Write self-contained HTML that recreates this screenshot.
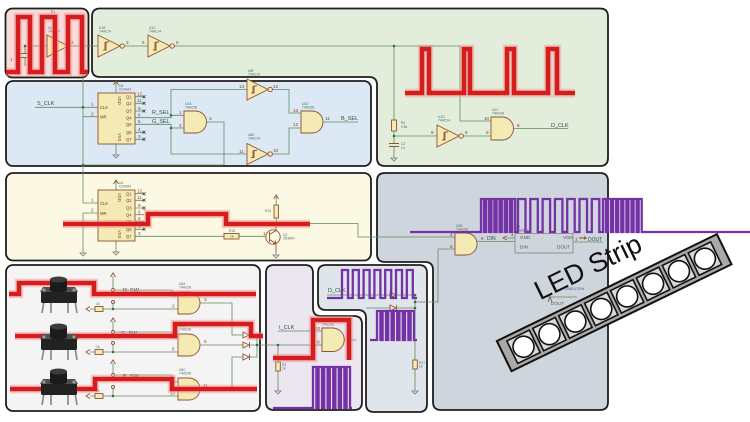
<!DOCTYPE html>
<html><head><meta charset="utf-8"><title>schematic</title>
<style>
html,body{margin:0;padding:0;background:#fff;width:750px;height:422px;overflow:hidden}
svg{display:block}
text{font-family:"Liberation Sans",sans-serif}
.w{stroke:#5e8c5e;stroke-width:.8;fill:none}
.c{fill:#f4ebb4;stroke:#8e5234;stroke-width:.9}
.co{fill:none;stroke:#8e5234;stroke-width:.9}
.rd{fill:none;stroke:#d61d1d;stroke-width:4.6;stroke-linejoin:miter}
.rh{fill:none;stroke:#f09a9a;stroke-width:8.5;opacity:.5;stroke-linejoin:miter}
.pp{fill:none;stroke:#7432a6;stroke-width:2.3;stroke-linejoin:miter}
.lb{font-size:5.5px;fill:#2f4f3f}
.pn{font-size:4.6px;fill:#8e3a2a}
.rf{font-size:3.3px;fill:#4a6a6a}
.dot{fill:#3d6b3d}
.gn{fill:none;stroke:#777;stroke-width:.8}
.x{stroke:#3a3a8a;stroke-width:.7}
.pnl{stroke:#1e1e1e;stroke-width:1.8}
</style></head><body>
<svg width="750" height="422" viewBox="0 0 750 422" xmlns="http://www.w3.org/2000/svg">
<defs>
<g id="gnd"><path d="M0,0 V3 M-3,3 H3 L0,6 Z" fill="none" stroke="#777" stroke-width=".8"/></g>
<g id="xm"><path d="M-1.5,-1.5 L1.5,1.5 M1.5,-1.5 L-1.5,1.5" stroke="#333" stroke-width=".7"/></g>
<g id="btn">
 <path d="M3,25 L1,37 M10,27 V37 M27,27 V37 M34,25 L36,37" stroke="#8a8a8a" stroke-width="1.7" fill="none"/>
 <rect x="0" y="14" width="36" height="13" rx="1.5" fill="#222"/>
 <path d="M2,11 L34,11 L37,16 L-1,16 Z" fill="#4f4f4f"/>
 <circle cx="3" cy="14" r="1.6" fill="#9a9a9a"/>
 <circle cx="33" cy="14" r="1.6" fill="#9a9a9a"/>
 <rect x="9" y="3.5" width="17" height="10.5" fill="#1b1b1b"/>
 <ellipse cx="17.5" cy="14" rx="8.5" ry="2.5" fill="#1b1b1b"/>
 <ellipse cx="17.5" cy="3.5" rx="8.5" ry="3" fill="#3c3c3c"/>
</g>
</defs>
<rect width="750" height="422" fill="#fff"/>

<!-- PANELS -->
<rect class="pnl" x="5.5" y="8.5" width="83" height="69" rx="7" fill="#f7dcdc"/>
<path class="pnl" d="M100,8.5 H600 Q608,8.5 608,16.5 V158 Q608,166 600,166 H385 Q377,166 377,158 V85 Q377,77 369,77 H100 Q92,77 92,69 V16.5 Q92,8.5 100,8.5 Z" fill="#e2eedb"/>
<rect class="pnl" x="6" y="81" width="365" height="85" rx="7" fill="#dce8f3"/>
<rect class="pnl" x="6" y="173" width="365" height="87.5" rx="7" fill="#fbf9e4"/>
<path class="pnl" d="M385,173 H600 Q608,173 608,181 V402 Q608,410 600,410 H441 Q433,410 433,402 V270 Q433,262 425,262 H385 Q377,262 377,254 V181 Q377,173 385,173 Z" fill="#cfd5dc"/>
<rect class="pnl" x="6" y="265" width="254" height="146" rx="7" fill="#f4f4f4"/>
<path class="pnl" d="M274,265 H305 Q313,265 313,273 V308 Q313,316 321,316 H354 Q362,316 362,324 V402 Q362,410 354,410 H274 Q266,410 266,402 V273 Q266,265 274,265 Z" fill="#ebe6ef"/>
<path class="pnl" d="M326,265 H419 Q427,265 427,273 V404 Q427,412 419,412 H374 Q366,412 366,404 V318 Q366,310 358,310 H326 Q318,310 318,302 V273 Q318,265 326,265 Z" fill="#e0e4eb"/>

<!-- PINK panel content -->
<path class="w" d="M25,46 H47 M68,46 H98 M25,46 V53.5 M25,57.5 V66 M83,46 V77"/>
<path class="co" d="M20,53.5 H30 M20,57.5 H30"/>
<circle class="dot" cx="25" cy="46" r="1.3"/>
<path class="c" d="M47,35 L68,46 L47,57 Z"/>
<text class="rf" x="48" y="29">U1A</text><text class="rf" x="48" y="32.5">74HC14</text>
<text class="pn" x="71" y="44">2</text><text class="pn" x="10" y="61">1</text>
<text class="rf" x="51" y="13">R1</text>

<!-- GREEN panel content -->
<path class="w" d="M124.5,46 H148 M174.5,46 H460 V121 H491 M394,46 V120 M394,131 V143.5 M394,146.5 V155 M394,136 H437 M463.5,136 H491 M513,128.5 H568"/>
<circle class="dot" cx="394" cy="46" r="1.3"/><circle class="dot" cx="394" cy="136" r="1.3"/>
<path class="c" d="M98,35 L120,46 L98,57 Z"/><circle class="c" cx="122.2" cy="46" r="2.2"/>
<path class="co" d="M103,50 H106 V42 H109 M105,50 V42"/>
<path class="c" d="M148,35 L170,46 L148,57 Z"/><circle class="c" cx="172.2" cy="46" r="2.2"/>
<path class="co" d="M153,50 H156 V42 H159 M155,50 V42"/>
<text class="rf" x="99" y="29">U1B</text><text class="rf" x="99" y="32.5">74HC14</text>
<text class="rf" x="149" y="29">U1C</text><text class="rf" x="149" y="32.5">74HC14</text>
<text class="pn" x="126" y="44">3</text><text class="pn" x="142" y="44">5</text><text class="pn" x="176" y="44">6</text>
<rect class="c" x="391.5" y="120" width="5" height="11"/>
<path class="co" d="M389,143.5 H399 M389,146.5 H399"/>
<use href="#gnd" x="394" y="155"/>
<text class="rf" x="401" y="124">R4</text><text class="rf" x="401" y="128">0.5k</text>
<text class="rf" x="401" y="145">C3</text><text class="rf" x="401" y="149">1u</text>
<path class="c" d="M437,125 L459,136 L437,147 Z"/><circle class="c" cx="461.2" cy="136" r="2.2"/>
<path class="co" d="M442,140 H445 V132 H448 M444,140 V132"/>
<text class="rf" x="438" y="118">U1D</text><text class="rf" x="438" y="121.5">74HC14</text>
<text class="pn" x="431" y="134">9</text><text class="pn" x="465" y="134">8</text>
<path class="c" d="M491,117 h11 a11.5 11.5 0 0 1 0 23 h-11 z"/>
<text class="rf" x="492" y="111">U2C</text><text class="rf" x="492" y="114.5">74HC08</text>
<text class="pn" x="484" y="120">10</text><text class="pn" x="486" y="134">9</text><text class="pn" x="517" y="127">8</text>
<text class="lb" x="551" y="127">D_CLK</text>

<!-- BLUE panel content -->
<path class="w" d="M35,107.3 H98 M83,77 V203 H98 M83,116.7 H98 M83,116.7 V165 H224 V122 H206.5 M116,82 V93 M116,144 V152"/>
<path class="co" d="M113.5,85 L116,81 L118.5,85"/>
<use href="#gnd" x="116" y="152"/>
<circle class="dot" cx="83" cy="107.3" r="1.3"/><circle class="dot" cx="83" cy="165" r="1.3"/>
<rect class="c" x="98" y="93" width="37" height="51"/>
<path class="w" d="M135,96.7 H144 M135,103.3 H144 M135,111 H144 M135,132.3 H144 M135,139.3 H144"/>
<use href="#xm" x="144" y="96.7"/><use href="#xm" x="144" y="103.3"/><use href="#xm" x="144" y="111"/><use href="#xm" x="144" y="132.3"/><use href="#xm" x="144" y="139.3"/>
<g class="pn"><text x="137" y="95.5">12</text><text x="137" y="102">11</text><text x="138" y="109.8">9</text><text x="138" y="116.5">6</text><text x="138" y="123">5</text><text x="138" y="131">4</text><text x="138" y="138">3</text></g>
<g style="font-size:4.2px;fill:#6a3a2a"><text x="126" y="98.5">Q1</text><text x="126" y="105">Q2</text><text x="126" y="112.5">Q3</text><text x="126" y="119.5">Q4</text><text x="126" y="126">Q5</text><text x="126" y="134">Q6</text><text x="126" y="141">Q7</text>
<text x="100" y="109">CLK</text><text x="100" y="118.5">MR</text></g>
<text style="font-size:4.2px;fill:#6a3a2a" transform="translate(118,96) rotate(90)">VDD</text>
<text style="font-size:4.2px;fill:#6a3a2a" transform="translate(118,133) rotate(90)">VSS</text>
<text class="pn" x="91" y="105.5">1</text><text class="pn" x="91" y="115.5">2</text>
<text class="rf" x="119" y="87">U9</text><text class="rf" x="119" y="90.5">CD4024</text>
<text class="lb" x="37" y="105">S_CLK</text>
<path class="w" d="M135,117.7 H171 V115.3 H184 M135,124.3 H171 V128 H184 M171,115.3 V89.5 H247 M171,128 V154 H247"/>
<circle class="dot" cx="171" cy="115.3" r="1.3"/><circle class="dot" cx="171" cy="128" r="1.3"/>
<text class="lb" x="152" y="114">R_SEL</text><text class="lb" x="152" y="123">G_SEL</text>
<path class="c" d="M184,111 h11.5 a11 11 0 0 1 0 22 h-11.5 z"/>
<text class="rf" x="185" y="105">U2A</text><text class="rf" x="185" y="108.5">74HC08</text>
<text class="pn" x="179" y="114">1</text><text class="pn" x="179" y="127">2</text><text class="pn" x="209" y="120">3</text>
<path class="c" d="M247,79 L268,89.5 L247,100 Z"/><circle class="c" cx="270.2" cy="89.5" r="2.2"/>
<path class="co" d="M251,93 H254 V86 H257 M253,93 V86"/>
<path class="c" d="M247,143.5 L268,154 L247,164.5 Z"/><circle class="c" cx="270.2" cy="154" r="2.2"/>
<path class="co" d="M251,157.5 H254 V150.5 H257 M253,157.5 V150.5"/>
<text class="rf" x="248" y="72">U8F</text><text class="rf" x="248" y="75.5">74HC14</text>
<text class="rf" x="248" y="136">U8E</text><text class="rf" x="248" y="139.5">74HC14</text>
<text class="pn" x="239" y="88">13</text><text class="pn" x="273" y="88">12</text>
<text class="pn" x="239" y="153">11</text><text class="pn" x="273" y="152">10</text>
<path class="w" d="M272.4,89.5 H289 V113 H301 M272.4,154 H289 V128 H301 M323,122 H358"/>
<path class="c" d="M301,111 h11 a11 11 0 0 1 0 22 h-11 z"/>
<text class="rf" x="302" y="105">U2D</text><text class="rf" x="302" y="108.5">74HC08</text>
<text class="pn" x="293" y="112">13</text><text class="pn" x="293" y="126">12</text><text class="pn" x="325" y="120">11</text>
<text class="lb" x="341" y="120">B_SEL</text>

<!-- YELLOW panel content -->
<path class="w" d="M83,213 H98 M83,213 V250 M116,181 V190 M116,241 V249"/>
<path class="co" d="M113.5,184 L116,180 L118.5,184"/>
<use href="#gnd" x="83" y="250"/><use href="#gnd" x="116" y="249"/>
<rect class="c" x="98" y="190" width="37" height="51"/>
<path class="w" d="M135,193.7 H144 M135,200.3 H144 M135,208 H144 M135,214.7 H144 M135,221.3 H144 M135,229.3 H144 M135,236.3 H224 M239,236.3 H266"/>
<use href="#xm" x="144" y="193.7"/><use href="#xm" x="144" y="200.3"/><use href="#xm" x="144" y="208"/><use href="#xm" x="144" y="229.3"/>
<g class="pn"><text x="137" y="192.5">12</text><text x="137" y="199">11</text><text x="138" y="206.8">9</text><text x="138" y="213.5">6</text><text x="138" y="220">5</text><text x="138" y="228">4</text><text x="138" y="235">3</text></g>
<g style="font-size:4.2px;fill:#6a3a2a"><text x="126" y="195.5">Q1</text><text x="126" y="202">Q2</text><text x="126" y="209.5">Q3</text><text x="126" y="216.5">Q4</text><text x="126" y="223">Q5</text><text x="126" y="231">Q6</text><text x="126" y="238">Q7</text>
<text x="100" y="205">CLK</text><text x="100" y="215">MR</text></g>
<text style="font-size:4.2px;fill:#6a3a2a" transform="translate(118,193) rotate(90)">VDD</text>
<text style="font-size:4.2px;fill:#6a3a2a" transform="translate(118,230) rotate(90)">VSS</text>
<text class="pn" x="91" y="201.5">1</text><text class="pn" x="91" y="211.5">2</text>
<text class="rf" x="119" y="184">U4</text><text class="rf" x="119" y="187.5">CD4024</text>
<rect class="c" x="224" y="233.5" width="15" height="5.5"/>
<text class="rf" x="229" y="232">R16</text><text class="rf" x="230" y="237.5">1k</text>
<circle class="co" cx="273" cy="237" r="7.2"/>
<path class="co" d="M269.5,232 V242 M269.5,234.5 L276,230.5 V224 M269.5,239.5 L276,243.5 V252 M273,243.5 L276,243.5 L275,240.5"/>
<rect class="c" x="274" y="205" width="4.5" height="13"/>
<path class="w" d="M276.2,218 V224 M276.2,205 V196"/>
<path class="co" d="M273.7,199 L276.2,195 L278.7,199"/>
<use href="#gnd" x="276" y="252"/>
<text class="rf" x="265" y="212">R14</text><text class="rf" x="283" y="236">Q1</text><text class="rf" x="283" y="239.5">2N3904</text>
<text class="pn" x="263" y="235">1</text>
<path class="w" d="M310,223.5 H358 V237 H455"/>

<!-- GRAY LED panel content -->
<path class="w" d="M438,249 H455 M438,249 V302 H415 M477,241.5 H515 M507,238 H515 M573,242 H603"/>
<path class="c" d="M455,233 h11 a11 11 0 0 1 0 22 h-11 z"/>
<text class="rf" x="456" y="227">U2B</text><text class="rf" x="456" y="230.5">74HC08</text>
<text class="pn" x="450" y="236">4</text><text class="pn" x="450" y="248">5</text>
<text class="pn" x="481" y="240">6</text><text class="lb" x="487" y="240" style="font-size:5px">DIN</text>
<rect x="515" y="233.5" width="58" height="19.5" fill="none" stroke="#777" stroke-width=".7"/>
<path class="co" d="M507,236 L503,238 L507,240"/>
<text class="pn" x="511" y="236.5">4</text>
<g style="font-size:4.6px;fill:#555"><text x="520" y="239">GND</text><text x="520" y="248.5">DIN</text><text x="563" y="239">VDD</text><text x="557" y="248.5">DOUT</text></g>
<text class="pn" x="575" y="240.5">1</text>
<path class="co" d="M579,238 H586 L584,236.5 M586,238 L584,239.5"/>
<text class="lb" x="588" y="241" style="font-size:5px">DOUT</text>
<text class="rf" x="516" y="228" style="fill:#4a4aa8">U7</text><text class="rf" x="516" y="231.5" style="fill:#4a4aa8">WS2812</text>
<text class="rf" x="565" y="290" style="fill:#4a4aa8;font-size:4px">GND170%</text>
<path class="w" d="M548,297 H577"/>
<text style="font-size:4.6px;fill:#555" x="551" y="305">DOUT</text>
<path class="co" d="M548,302 L550,297 L552,302"/>

<!-- LOWER-LEFT panel content -->
<g class="w">
<path d="M113,276 V288.5 M113,303.5 V309 M103,309 H178 M95,309 H90 M114.5,290 H172 V296 H178"/>
<path d="M113,321 V330.5 M113,344.5 V352 M103,352 H178 M95,352 H90 M114.5,332 H172 V338 H178"/>
<path d="M113,363 V373.5 M113,388.5 V396 M103,396 H178 M95,396 H90 M114.5,375 H172 V382 H178"/>
<path d="M200,303 H232 V335 H243 M200,345 H243 M200,389 H232 V357 H243 M250,335 H257 V357 H250 M250,345 H278"/>
</g>
<g class="co">
<path d="M110.5,277 L113,273 L115.5,277 M110.5,322 L113,318 L115.5,322 M110.5,364 L113,360 L115.5,364"/>
<circle cx="113" cy="290" r="1.5"/><circle cx="113" cy="302" r="1.5"/>
<circle cx="113" cy="332" r="1.5"/><circle cx="113" cy="343" r="1.5"/>
<circle cx="113" cy="375" r="1.5"/><circle cx="113" cy="387" r="1.5"/>
<path d="M90,306.5 L86,309 L90,311.5 M90,349.5 L86,352 L90,354.5 M90,393.5 L86,396 L90,398.5"/>
<path d="M243,332 L249,335 L243,338 Z M249.5,332 V338 M243,342 L249,345 L243,348 Z M249.5,342 V348 M243,354 L249,357 L243,360 Z M249.5,354 V360"/>
</g>
<rect class="c" x="95" y="306.5" width="8" height="5"/><rect class="c" x="95" y="349.5" width="8" height="5"/><rect class="c" x="95" y="393.5" width="8" height="5"/>
<text class="rf" x="96" y="305">1k</text><text class="rf" x="96" y="348">1k</text><text class="rf" x="96" y="392">1k</text>
<circle class="dot" cx="113" cy="309" r="1.3"/><circle class="dot" cx="113" cy="352" r="1.3"/><circle class="dot" cx="113" cy="396" r="1.3"/>
<circle class="dot" cx="257" cy="345" r="1.3"/>
<path class="c" d="M178,292 h11 a11 11 0 0 1 0 22 h-11 z"/>
<path class="c" d="M178,334 h11 a11 11 0 0 1 0 22 h-11 z"/>
<path class="c" d="M178,378 h11 a11 11 0 0 1 0 22 h-11 z"/>
<text class="rf" x="179" y="285">U6A</text><text class="rf" x="179" y="288.5">74HC08</text>
<text class="rf" x="179" y="327">U6B</text><text class="rf" x="179" y="330.5">74HC08</text>
<text class="rf" x="179" y="371">U6C</text><text class="rf" x="179" y="374.5">74HC08</text>
<text class="pn" x="172" y="294.5">1</text><text class="pn" x="172" y="307.5">2</text><text class="pn" x="204" y="301">3</text>
<text class="pn" x="172" y="336.5">4</text><text class="pn" x="172" y="350.5">5</text><text class="pn" x="204" y="343">6</text>
<text class="pn" x="170" y="380.5">12</text><text class="pn" x="170" y="394.5">13</text><text class="pn" x="203" y="387">11</text>
<text class="lb" x="123" y="292">R_SW</text><text class="lb" x="121" y="335">G_SW</text><text class="lb" x="123" y="378">B_SW</text>

<!-- LAVENDER panel content -->
<path class="w" d="M278,345 V362 M278,371 V388 M278,331 H322 M278,345 H322 M344,340 H356"/>
<circle class="dot" cx="278" cy="345" r="1.3"/>
<rect class="c" x="275.8" y="362" width="4.5" height="9"/>
<use href="#gnd" x="278" y="388"/>
<text class="rf" x="282" y="366">R2</text><text class="rf" x="282" y="369.5">1k</text>
<text class="lb" x="279" y="329">I_CLK</text>
<path class="c" d="M322,328 h10.5 a11.75 11.75 0 0 1 0 23.5 h-10.5 z"/>
<text class="rf" x="322" y="322">U2A</text><text class="rf" x="322" y="325.5">74HC08</text>
<text class="pn" x="315" y="330">10</text><text class="pn" x="317" y="343.5">9</text>

<!-- GRAY-BLUE panel content -->
<path class="w" d="M327,295 H390 M397,295 H415 M366,308 H390 M397,308 H415 M415,295 V360 M415,369 V388"/>
<path class="co" d="M390,292 L396,295 L390,298 Z M396.5,292 V298 M390,305 L396,308 L390,311 Z M396.5,305 V311"/>
<circle class="dot" cx="415" cy="295" r="1.3"/><circle class="dot" cx="415" cy="302" r="1.3"/><circle class="dot" cx="415" cy="308" r="1.3"/>
<rect class="c" x="412.8" y="360" width="4.5" height="9"/>
<use href="#gnd" x="415" y="388"/>
<text class="rf" x="419" y="364">R17</text><text class="rf" x="419" y="367.5">1k</text>
<text class="lb" x="328" y="292">D_CLK</text>

<!-- RED WAVES -->
<g>
<polyline class="rh" points="6,72 18,72 18,17 30,17 30,72 42,72 42,17 55,17 55,72 68,72 68,17 82,17 82,72 88,72"/>
<polyline class="rh" points="405,93 422,93 422,49 429,49 429,93 464,93 464,49 470,49 470,93 507,93 507,49 514,49 514,93 548,93 548,49 557,49 557,93 575,93"/>
<polyline class="rh" points="63,224 148,224 148,214 226,214 226,224 310,224"/>
<polyline class="rh" points="9,294 19,294 19,283 94,283 94,294 256,294"/>
<polyline class="rh" points="15,336 175,336 175,324 251,324 251,336 263,336"/>
<polyline class="rh" points="10,389 95,389 95,379 172,379 172,389 257,389"/>
<polyline class="rh" points="273,358 313,358 313,320 349,320 349,360"/>
<polyline class="rd" points="6,72 18,72 18,17 30,17 30,72 42,72 42,17 55,17 55,72 68,72 68,17 82,17 82,72 88,72"/>
<polyline class="rd" points="405,93 422,93 422,49 429,49 429,93 464,93 464,49 470,49 470,93 507,93 507,49 514,49 514,93 548,93 548,49 557,49 557,93 575,93"/>
<polyline class="rd" points="63,224 148,224 148,214 226,214 226,224 310,224"/>
<polyline class="rd" points="9,294 19,294 19,283 94,283 94,294 256,294"/>
<polyline class="rd" points="15,336 175,336 175,324 251,324 251,336 263,336"/>
<polyline class="rd" points="10,389 95,389 95,379 172,379 172,389 257,389"/>
<polyline class="rd" points="273,358 313,358 313,320 349,320 349,360"/>
</g>

<!-- PURPLE WAVES -->
<polyline class="pp" points="410,232 481,232 481,199 484,199 484,232 486.2,232 486.2,199 489.2,199 489.2,232 491.4,232 491.4,199 494.4,199 494.4,232 496.6,232 496.6,199 499.6,199 499.6,232 501.8,232 501.8,199 504.8,199 504.8,232 507,232 507,199 510,199 510,232 512.2,232 512.2,199 515.2,199 515.2,232 518,232 518,199 525.5,199 525.5,232 530.3,232 530.3,199 537.8,199 537.8,232 542.6,232 542.6,199 550.1,199 550.1,232 554.9,232 554.9,199 562.4,199 562.4,232 567.2,232 567.2,199 574.7,199 574.7,232 579.5,232 579.5,199 587,199 587,232 591.8,232 591.8,199 599.3,199 599.3,232 603,232 603,199 606,199 606,232 608.1,232 608.1,199 611.1,199 611.1,232 613.2,232 613.2,199 616.2,199 616.2,232 618.3,232 618.3,199 621.3,199 621.3,232 623.4,232 623.4,199 626.4,199 626.4,232 628.5,232 628.5,199 631.5,199 631.5,232 633.6,232 633.6,199 636.6,199 636.6,232 638.7,232 638.7,199 641.7,199 641.7,232 750,232"/>
<polyline class="pp" points="327,298 342,298 342,270 348,270 348,298 352.8,298 352.8,270 358.8,270 358.8,298 363.6,298 363.6,270 369.6,270 369.6,298 374.4,298 374.4,270 380.4,270 380.4,298 385.2,298 385.2,270 391.2,270 391.2,298 396,298 396,270 402,270 402,298 406.8,298 406.8,270 412.8,270 412.8,298 417,298"/>
<polyline class="pp" points="370,340 377,340 377,311 380.4,311 380.4,340 382.6,340 382.6,311 386,311 386,340 388.2,340 388.2,311 391.6,311 391.6,340 393.8,340 393.8,311 397.2,311 397.2,340 399.4,340 399.4,311 402.8,311 402.8,340 405,340 405,311 408.4,311 408.4,340 410.6,340 410.6,311 414,311 414,340 417,340"/>
<polyline class="pp" points="273,408 313,408 313,367 316.4,367 316.4,408 318.6,408 318.6,367 322,367 322,408 324.2,408 324.2,367 327.6,367 327.6,408 329.8,408 329.8,367 333.2,367 333.2,408 335.4,408 335.4,367 338.8,367 338.8,408 341,408 341,367 344.4,367 344.4,408 346.6,408 346.6,367 350,367 350,408 352,408"/>

<!-- BUTTONS -->
<use href="#btn" x="41" y="276"/>
<use href="#btn" x="41" y="323"/>
<use href="#btn" x="41" y="368"/>

<!-- LED STRIP -->
<text transform="translate(540,300.5) rotate(-25.9)" x="0" y="0" style="font-size:27px;fill:#111">LED Strip</text>
<g transform="translate(614.2,302.7) rotate(-25.9)">
<rect x="-122.3" y="-16.75" width="244.6" height="33.5" fill="#a9a9a9" stroke="#111" stroke-width="2"/>
<g fill="#d8d8d8" stroke="#111" stroke-width="1.6">
<rect x="-113.3" y="-12.5" width="25" height="25"/>
<rect x="-84.5" y="-12.5" width="25" height="25"/>
<rect x="-55.7" y="-12.5" width="25" height="25"/>
<rect x="-26.9" y="-12.5" width="25" height="25"/>
<rect x="1.9" y="-12.5" width="25" height="25"/>
<rect x="30.7" y="-12.5" width="25" height="25"/>
<rect x="59.5" y="-12.5" width="25" height="25"/>
<rect x="88.3" y="-12.5" width="25" height="25"/>
</g>
<g fill="#fff" stroke="#111" stroke-width="1.6">
<circle cx="-100.8" cy="0" r="10.5"/>
<circle cx="-72" cy="0" r="10.5"/>
<circle cx="-43.2" cy="0" r="10.5"/>
<circle cx="-14.4" cy="0" r="10.5"/>
<circle cx="14.4" cy="0" r="10.5"/>
<circle cx="43.2" cy="0" r="10.5"/>
<circle cx="72" cy="0" r="10.5"/>
<circle cx="100.8" cy="0" r="10.5"/>
</g>
</g>
</svg>
</body></html>
